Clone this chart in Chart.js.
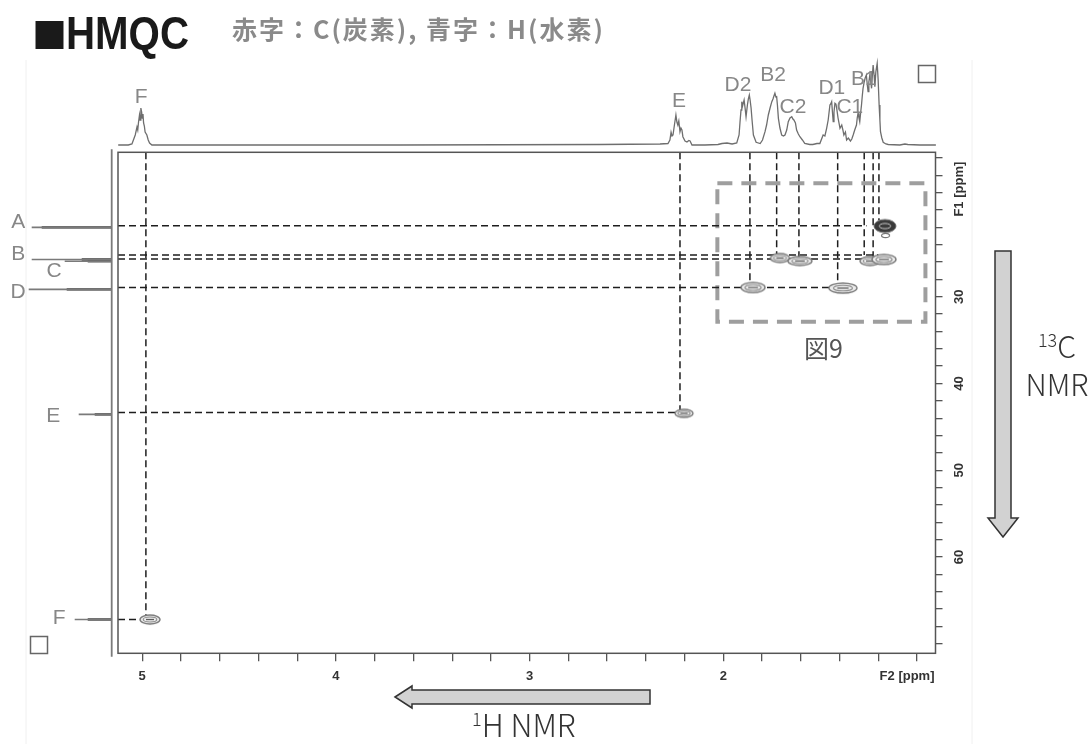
<!DOCTYPE html>
<html>
<head>
<meta charset="utf-8">
<script src="https://cdn.jsdelivr.net/npm/chart.js@4.4.1/dist/chart.umd.min.js"></script>
<style>
  html, body { margin: 0; padding: 0; background: #fff; }
  #wrap { position: relative; width: 1090px; height: 744px; overflow: hidden; background: #fff; }
  #wrap canvas { position: absolute; left: 0; top: 0; }
  #wrap svg { position: absolute; left: 0; top: 0; }
  .t { position: absolute; white-space: nowrap; }
  #sq { left: 32px; top: 15px; font: 35px/35px "Noto Sans CJK JP", sans-serif; color: #1a1a1a; }
  #title { left: 66px; top: 10px; font: bold 46px/46px "Liberation Sans", Arial, sans-serif; color: #1a1a1a;
           transform: scaleX(0.875); transform-origin: 0 0; }
  #sub { left: 232px; top: 16px; font: bold 25px/25px "Noto Sans CJK JP", sans-serif; letter-spacing: 2px; color: #8a8a8a; }
  #hnmr { left: 472px; top: 708px; font: 300 31px/31px "Noto Sans CJK JP", sans-serif; color: #333; }
  #hnmr sup, #cnmr sup { font-size: 18px; vertical-align: 11px; line-height: 0; }
  #cnmr { left: 1020px; top: 326px; width: 74px; text-align: center; font: 300 30px/38px "Noto Sans CJK JP", sans-serif; color: #333; }
  #fig9 { left: 804px; top: 335px; font: 25px/25px "Noto Sans CJK JP", sans-serif; color: #555; }
</style>
</head>
<body>
<div id="wrap">
  <canvas id="main" width="1090" height="744"></canvas>
  <canvas id="top" width="1090" height="150"></canvas>
  <canvas id="left" width="118" height="744"></canvas>
  <svg width="1090" height="744" viewBox="0 0 1090 744">
    <!-- faint panel edges -->
    <line x1="26" y1="60" x2="26" y2="744" stroke="#f0f0f0" stroke-width="1"/>
    <line x1="972" y1="60" x2="972" y2="744" stroke="#f0f0f0" stroke-width="1"/>
    <!-- corner markers -->
    <rect x="918.5" y="65.5" width="17" height="17" fill="none" stroke="#666" stroke-width="1.5"/>
    <rect x="30.5" y="636.5" width="17" height="17" fill="none" stroke="#666" stroke-width="1.5"/>
    <!-- 1H direction arrow -->
    <polygon points="395,697 412,686 412,690 650,690 650,704 412,704 412,708"
             fill="#d2d2d2" stroke="#333" stroke-width="1.5" stroke-linejoin="miter"/>
    <!-- 13C direction arrow -->
    <polygon points="995,251 1011,251 1011,518 1018,518 1003,537 988,518 995,518"
             fill="#d2d2d2" stroke="#333" stroke-width="1.5" stroke-linejoin="miter"/>
  </svg>
  <div class="t" id="sq">■</div>
  <div class="t" id="title">HMQC</div>
  <div class="t" id="sub">赤字：C(炭素), 青字：H(水素)</div>
  <div class="t" id="hnmr"><sup>1</sup>H NMR</div>
  <div class="t" id="cnmr"><sup>13</sup>C<br>NMR</div>
  <div class="t" id="fig9">図9</div>
</div>

<script>
// ---- axis ranges (ppm) ----
const hRange = [0.905, 5.125];      // F2, 1H
const cRange = [13.35, 71.1];       // F1, 13C
const hTickValues = [5, 4, 3, 2];
const hTickLabels = ['5', '4', '3', '2'];
const cTickValues = [30, 40, 50, 60];
const cTickLabels = ['30', '40', '50', '60'];

// ---- 1H projection trace ----
const protonPpm = [
  5.124, 5.072, 5.053, 5.036, 5.027, 5.023, 5.019, 5.014, 5.011, 5.007,
  5.003, 5.000, 4.996, 4.993, 4.989, 4.985, 4.976, 4.969, 4.962, 4.950,
  3.669, 2.637, 2.327, 2.286, 2.276, 2.270, 2.265, 2.260, 2.252, 2.245,
  2.240, 2.235, 2.230, 2.224, 2.219, 2.214, 2.209, 2.198, 2.188, 2.178,
  2.172, 2.162, 2.095, 2.028, 2.007, 1.981, 1.955, 1.931, 1.919, 1.914,
  1.909, 1.905, 1.901, 1.893, 1.888, 1.883, 1.876, 1.871, 1.866, 1.862,
  1.857, 1.852, 1.845, 1.831, 1.810, 1.798, 1.785, 1.777, 1.768, 1.759,
  1.750, 1.744, 1.739, 1.734, 1.729, 1.725, 1.721, 1.716, 1.708, 1.699,
  1.690, 1.682, 1.673, 1.665, 1.656, 1.647, 1.641, 1.636, 1.628, 1.622,
  1.613, 1.605, 1.592, 1.580, 1.554, 1.538, 1.517, 1.502, 1.485, 1.476,
  1.467, 1.459, 1.450, 1.446, 1.441, 1.437, 1.433, 1.429, 1.424, 1.419,
  1.415, 1.408, 1.398, 1.389, 1.383, 1.378, 1.370, 1.364, 1.355, 1.344,
  1.337, 1.330, 1.322, 1.313, 1.309, 1.305, 1.300, 1.296, 1.291, 1.287,
  1.283, 1.279, 1.273, 1.268, 1.262, 1.257, 1.253, 1.249, 1.244, 1.239,
  1.235, 1.231, 1.227, 1.222, 1.218, 1.213, 1.206, 1.201, 1.196, 1.192,
  1.189, 1.182, 1.175, 1.161, 1.149, 1.089, 1.063, 1.048, 0.986, 0.903
];
const protonInt = [
  0, 0, 1, 10, 18, 15, 23, 30, 25, 37,
  33, 27, 31, 22, 19, 13, 10, 5, 2, 0,
  0, 0.5, 1, 1.5, 5, 12.7, 9, 10, 21, 30,
  23, 20, 24, 13.3, 17, 15, 8.3, 4, 3, 4.5,
  4, 0, 0, 0.5, 1.5, 2, 1, 2, 10, 23.3,
  35, 43.3, 39, 45, 37, 28.3, 40, 46, 50, 45,
  37, 25, 10, 2.7, 1.5, 5, 13.3, 20, 30, 37,
  43.3, 46, 49, 51.7, 48, 48.3, 40, 26.7, 17, 10,
  9, 10, 15, 23.3, 27, 28.3, 26, 25, 22, 15,
  11, 8.3, 5, 1.7, 0.5, 0.5, 1.5, 1.5, 10, 9,
  16.7, 25, 40, 41, 43.3, 33, 23.3, 33, 41.7, 41,
  36.7, 27, 16.7, 20, 15, 10, 13, 5, 7, 4,
  6, 10, 15, 20, 27, 31.7, 27, 23.3, 33, 40,
  49, 56.7, 63, 67, 70, 60, 53.3, 63, 70, 63,
  56.7, 69, 80, 70, 58.3, 73, 81.7, 65, 40, 25,
  13.3, 7, 2.7, 1, 0.5, 0, 1, 0.5, 0, 0
];
const protonLabels = ['F', 'E', 'D2', 'B2', 'C2', 'D1', 'C1', 'B1'];
const protonLabelPpm = [5.005, 2.229, 1.925, 1.744, 1.641, 1.440, 1.347, 1.275];
const protonLabelLevel = [48, 44, 60, 70, 38, 57, 38, 66];

// ---- 13C projection peaks ----
const carbonLabels = ['A', 'B', 'C', 'D', 'E', 'F'];
const carbonShift = [22.0, 25.7, 25.9, 29.15, 43.56, 67.2];
const carbonHeight = [80, 80, 47, 83, 33, 37];
const carbonCore = [70, 30, 24, 45, 17, 24];
const carbonLabelLevel = [93.5, 93.5, 57.5, 93.5, 58.5, 52.5];
const carbonLabelShift = [21.4, 25.1, 27.0, 29.5, 43.8, 67.0];

// ---- HMQC cross peaks ----
const peakNames = ['F', 'E', 'D2', 'D1', 'B2', 'C2', 'C1', 'B1', 'A', 'A'];
const peakH = [4.960, 2.203, 1.847, 1.383, 1.708, 1.605, 1.243, 1.171, 1.166, 1.163];
const peakC = [67.21, 43.44, 28.93, 29.0, 25.54, 25.88, 25.88, 25.70, 21.85, 22.94];

// ---- guide lines: 1H columns (down to the cross peak) ----
const colH = [4.981, 2.224, 1.863, 1.725, 1.610, 1.410, 1.273, 1.227, 1.197];
const colEnd = [67.2, 43.4, 28.4, 25.2, 25.6, 28.5, 25.2, 25.4, 21.2];
// ---- guide lines: 13C rows (across to the cross peak) ----
const rowC = [21.81, 25.19, 25.65, 28.94, 43.35, 67.2];
const rowEnd = [1.261, 1.20, 1.27, 1.416, 2.224, 4.981];

// highlighted region (図9)
const boxH = [2.031, 0.957];
const boxC = [16.92, 32.88];

// ---- styling ----
const blobStyle = {
  F: [20, 9], E: [18, 8], D2: [24, 10], D1: [28, 10], B2: [19, 9],
  C2: [24, 9], C1: [20, 9], B1: [24, 10], A: [22, 13]
};
const axisFont = "'Liberation Sans', Arial, sans-serif";
const labelFont = "21px 'Liberation Sans', Arial, sans-serif";
const labelColor = '#878787';
const traceColor = '#6e6e6e';

function blob(w, h, dark) {
  const pad = 2;
  const c = document.createElement('canvas');
  c.width = w + pad * 2; c.height = h + pad * 2;
  const g = c.getContext('2d');
  const cx = c.width / 2, cy = c.height / 2;
  g.beginPath(); g.ellipse(cx, cy, w / 2, h / 2, 0, 0, Math.PI * 2);
  if (dark) {
    g.fillStyle = '#3a3a3a'; g.fill();
    g.strokeStyle = '#666'; g.lineWidth = 1; g.stroke();
    g.beginPath(); g.ellipse(cx, cy, w * 0.26, h * 0.2, 0, 0, Math.PI * 2);
    g.strokeStyle = '#c8c8c8'; g.lineWidth = 1; g.stroke();
  } else {
    g.fillStyle = '#ececec'; g.fill();
    g.strokeStyle = '#7a7a7a'; g.lineWidth = 1.4; g.stroke();
    g.beginPath(); g.ellipse(cx, cy, w * 0.34, h * 0.28, 0, 0, Math.PI * 2);
    g.strokeStyle = '#8c8c8c'; g.lineWidth = 1.1; g.stroke();
    g.beginPath(); g.moveTo(cx - w * 0.2, cy); g.lineTo(cx + w * 0.2, cy);
    g.strokeStyle = '#555'; g.lineWidth = 1.2; g.stroke();
  }
  return c;
}
function smallBlob() {
  const c = document.createElement('canvas');
  c.width = 11; c.height = 7;
  const g = c.getContext('2d');
  g.beginPath(); g.ellipse(5.5, 3.5, 4, 2.2, 0, 0, Math.PI * 2);
  g.strokeStyle = '#777'; g.lineWidth = 1.2; g.stroke();
  return c;
}

Chart.defaults.animation = false;
Chart.defaults.events = [];
Chart.defaults.plugins.legend.display = false;
Chart.defaults.plugins.tooltip.enabled = false;

// ---------------- 2D map ----------------
const AREA = { left: 118, right: 935.5, top: 152.3, bottom: 653.3 };
const dashed = { borderColor: '#1e1e1e', borderWidth: 1.5, borderDash: [7, 4], pointRadius: 0, showLine: true, order: 2 };

const datasets = [];
datasets.push({
  data: peakH.map((h, i) => ({ x: h, y: peakC[i] })),
  pointStyle: peakNames.map((n, i) => {
    if (n === 'A' && i === peakNames.length - 1) return smallBlob();
    const s = blobStyle[n];
    return blob(s[0], s[1], n === 'A');
  }),
  pointRadius: 5, showLine: false, order: 0
});
colH.forEach((h, i) => datasets.push(Object.assign({
  data: [{ x: h, y: cRange[0] }, { x: h, y: colEnd[i] }]
}, dashed)));
rowC.forEach((c, i) => datasets.push(Object.assign({
  data: [{ x: hRange[1], y: c }, { x: rowEnd[i], y: c }]
}, dashed)));
datasets.push({
  data: [
    { x: boxH[0], y: boxC[0] }, { x: boxH[1], y: boxC[0] },
    { x: boxH[1], y: boxC[1] }, { x: boxH[0], y: boxC[1] }, { x: boxH[0], y: boxC[0] }
  ],
  showLine: true, pointRadius: 0, borderColor: '#9e9e9e', borderWidth: 4,
  borderDash: [15, 9], order: 3
});

const framePlugin = {
  id: 'frame',
  afterDraw(chart) {
    const { ctx, chartArea: a, scales: { x, y } } = chart;
    ctx.save();
    ctx.strokeStyle = '#555'; ctx.lineWidth = 1.5;
    ctx.strokeRect(a.left, a.top, a.right - a.left, a.bottom - a.top);
    ctx.fillStyle = '#333';
    ctx.font = 'bold 13px ' + axisFont;
    ctx.textAlign = 'center'; ctx.textBaseline = 'middle';
    cTickValues.forEach((v, i) => {
      ctx.save();
      ctx.translate(a.right + 24, y.getPixelForValue(v));
      ctx.rotate(-Math.PI / 2);
      ctx.fillText(cTickLabels[i], 0, 0);
      ctx.restore();
    });
    ctx.save();
    ctx.translate(a.right + 24, y.getPixelForValue(17.6));
    ctx.rotate(-Math.PI / 2);
    ctx.fillText('F1 [ppm]', 0, 0);
    ctx.restore();
    ctx.textAlign = 'right';
    ctx.fillText('F2 [ppm]', a.right - 1, a.bottom + 23);
    ctx.restore();
  }
};

new Chart(document.getElementById('main'), {
  type: 'scatter',
  data: { datasets },
  options: {
    responsive: false,
    layout: { padding: { left: AREA.left, top: AREA.top, right: 1090 - AREA.right - 45, bottom: 744 - AREA.bottom - 40 } },
    scales: {
      x: {
        type: 'linear', position: 'bottom', reverse: true, min: hRange[0], max: hRange[1],
        afterFit(s) { s.height = 40; },
        border: { display: false },
        grid: { drawOnChartArea: false, drawTicks: true, tickLength: 8, color: '#555', lineWidth: 1.3 },
        ticks: {
          stepSize: 0.2, includeBounds: false, autoSkip: false, maxRotation: 0, minRotation: 0,
          padding: 7, color: '#333', font: { size: 13, weight: 'bold', family: axisFont },
          callback(v) {
            const i = hTickValues.findIndex(t => Math.abs(t - v) < 1e-6);
            return i >= 0 ? hTickLabels[i] : '';
          }
        }
      },
      y: {
        type: 'linear', position: 'right', reverse: true, min: cRange[0], max: cRange[1],
        afterFit(s) { s.width = 45; },
        border: { display: false },
        grid: { drawOnChartArea: false, drawTicks: true, tickLength: 7, color: '#555', lineWidth: 1.3 },
        ticks: { stepSize: 2, includeBounds: false, autoSkip: false, callback: () => '' }
      }
    }
  },
  plugins: [framePlugin]
});

// ---------------- 1H projection (top) ----------------
const topLabelPlugin = {
  id: 'topLabels',
  afterDatasetsDraw(chart) {
    const { ctx, scales: { x, y } } = chart;
    ctx.save();
    ctx.font = labelFont; ctx.fillStyle = labelColor;
    ctx.textAlign = 'center'; ctx.textBaseline = 'middle';
    protonLabels.forEach((t, i) => ctx.fillText(t, x.getPixelForValue(protonLabelPpm[i]), y.getPixelForValue(protonLabelLevel[i])));
    ctx.restore();
  }
};
new Chart(document.getElementById('top'), {
  type: 'scatter',
  data: {
    datasets: [{
      data: protonPpm.map((p, i) => ({ x: p, y: protonInt[i] })),
      showLine: true, borderColor: traceColor, borderWidth: 1.3, pointRadius: 0, clip: false
    }]
  },
  options: {
    responsive: false,
    layout: { padding: { left: AREA.left, right: 1090 - AREA.right, top: 45, bottom: 5 } },
    scales: {
      x: { display: false, type: 'linear', reverse: true, min: hRange[0], max: hRange[1] },
      y: { display: false, min: 0, max: 100 }
    }
  },
  plugins: [topLabelPlugin]
});

// ---------------- 13C projection (left) ----------------
const leftLabelPlugin = {
  id: 'leftLabels',
  afterDatasetsDraw(chart) {
    const { ctx, scales: { x, y } } = chart;
    ctx.save();
    ctx.font = labelFont; ctx.fillStyle = labelColor;
    ctx.textAlign = 'center'; ctx.textBaseline = 'middle';
    carbonLabels.forEach((t, i) => ctx.fillText(t, x.getPixelForValue(carbonLabelLevel[i]), y.getPixelForValue(carbonLabelShift[i])));
    ctx.restore();
  }
};
const leftSets = [{
  data: [{ x: 0, y: 13.0 }, { x: 0, y: 71.5 }],
  showLine: true, borderColor: '#7a7a7a', borderWidth: 1.8, pointRadius: 0, clip: false
}];
carbonShift.forEach((c, i) => {
  leftSets.push({
    data: [{ x: 0, y: c }, { x: carbonHeight[i], y: c }],
    showLine: true, borderColor: '#7a7a7a', borderWidth: 1.6, pointRadius: 0, clip: false
  });
  leftSets.push({
    data: [{ x: 0, y: c }, { x: carbonCore[i], y: c }],
    showLine: true, borderColor: '#686868', borderWidth: 2.8, pointRadius: 0, clip: false
  });
});
new Chart(document.getElementById('left'), {
  type: 'scatter',
  data: { datasets: leftSets },
  options: {
    responsive: false,
    layout: { padding: { left: 5, right: 118 - 111.7, top: AREA.top, bottom: 744 - AREA.bottom } },
    scales: {
      x: { display: false, type: 'linear', reverse: true, min: 0, max: 106.7 },
      y: { display: false, type: 'linear', reverse: true, min: cRange[0], max: cRange[1] }
    }
  },
  plugins: [leftLabelPlugin]
});
</script>
</body>
</html>
